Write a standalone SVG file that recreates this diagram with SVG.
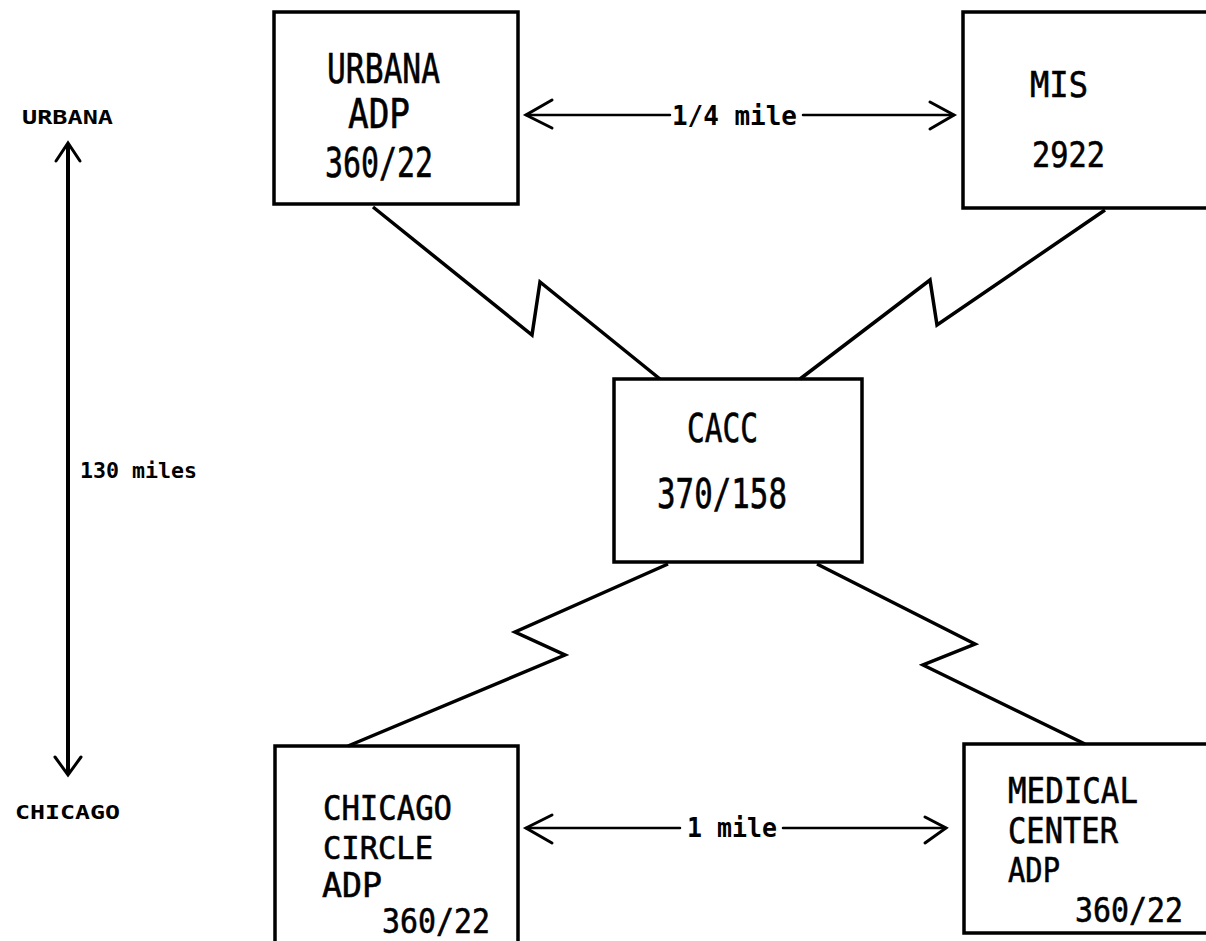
<svg xmlns="http://www.w3.org/2000/svg" width="1206" height="941" viewBox="0 0 1206 941">
<style>
.box{fill:none;stroke:#000;stroke-width:3.5}
.t{font-family:"DejaVu Sans Mono","Liberation Mono",monospace;fill:#000;stroke:#000;stroke-width:0.6}
.lb{font-family:"DejaVu Sans Mono","Liberation Mono",monospace;font-weight:bold;fill:#000}
.zz{fill:none;stroke:#000;stroke-width:3.5;stroke-linejoin:miter}
.ar{fill:none;stroke:#000;stroke-width:2.5;stroke-linecap:round}
.arh{fill:none;stroke:#000;stroke-width:3;stroke-linecap:round;stroke-linejoin:miter}
</style>
<rect width="1206" height="941" fill="#fff"/>
<g id="urbana-adp">
<rect class="box" x="274" y="12" width="244" height="192"/>
<text class="t" font-size="41" x="327" y="83" textLength="113" lengthAdjust="spacingAndGlyphs">URBANA</text>
<text class="t" font-size="40" x="348" y="128" textLength="62" lengthAdjust="spacingAndGlyphs">ADP</text>
<text class="t" font-size="41" x="325" y="177" textLength="108" lengthAdjust="spacingAndGlyphs">360/22</text>
</g>
<g id="mis">
<rect class="box" x="963" y="12" width="260" height="196"/>
<text class="t" font-size="35" x="1030" y="97" textLength="58" lengthAdjust="spacingAndGlyphs">MIS</text>
<text class="t" font-size="35" x="1032" y="167" textLength="73" lengthAdjust="spacingAndGlyphs">2922</text>
</g>
<g id="cacc">
<rect class="box" x="614" y="379" width="248" height="183"/>
<text class="t" font-size="39" x="687" y="442" textLength="71" lengthAdjust="spacingAndGlyphs">CACC</text>
<text class="t" font-size="41" x="657" y="508" textLength="130" lengthAdjust="spacingAndGlyphs">370/158</text>
</g>
<g id="chicago-circle-adp">
<rect class="box" x="275" y="746" width="243" height="200"/>
<text class="t" font-size="33" x="323" y="820" textLength="129" lengthAdjust="spacingAndGlyphs">CHICAGO</text>
<text class="t" font-size="32" x="323" y="859" textLength="110" lengthAdjust="spacingAndGlyphs">CIRCLE</text>
<text class="t" font-size="33" x="322" y="897" textLength="60" lengthAdjust="spacingAndGlyphs">ADP</text>
<text class="t" font-size="34" x="382" y="933" textLength="108" lengthAdjust="spacingAndGlyphs">360/22</text>
</g>
<g id="medical-center-adp">
<rect class="box" x="964" y="744" width="260" height="189"/>
<text class="t" font-size="36" x="1008" y="803" textLength="130" lengthAdjust="spacingAndGlyphs">MEDICAL</text>
<text class="t" font-size="35" x="1008" y="843" textLength="110" lengthAdjust="spacingAndGlyphs">CENTER</text>
<text class="t" font-size="34" x="1008" y="882" textLength="52" lengthAdjust="spacingAndGlyphs">ADP</text>
<text class="t" font-size="34" x="1075" y="922" textLength="108" lengthAdjust="spacingAndGlyphs">360/22</text>
</g>
<g id="connectors">
<polyline class="zz" points="373,207 532,335 540,282 660,379"/>
<polyline class="zz" points="1105,210 937,325 930,280 800,379"/>
<polyline class="zz" points="668,564 515,632 565,655 348,746"/>
<polyline class="zz" points="817,564 975,644 923,665 1085,744"/>
<line class="ar" x1="526" y1="115" x2="670" y2="115"/>
<line class="ar" x1="803" y1="115" x2="954" y2="115"/>
<polyline class="arh" points="552,100 526,115 552,128"/>
<polyline class="arh" points="930,102 954,115 930,129"/>
<line class="ar" x1="526" y1="828" x2="680" y2="828"/>
<line class="ar" x1="783" y1="828" x2="946" y2="828"/>
<polyline class="arh" points="552,815 526,828 552,843"/>
<polyline class="arh" points="925,817 946,828 925,843"/>
<line x1="68" y1="144" x2="68" y2="774" stroke="#000" stroke-width="4"/>
<polyline class="arh" points="56,161 68,143 80,161" stroke-width="3.5"/>
<polyline class="arh" points="55,757 68,775 81,757" stroke-width="3.5"/>
</g>
<g id="labels">
<text class="lb" font-size="26" x="672" y="125" textLength="125" lengthAdjust="spacingAndGlyphs">1/4 mile</text>
<text class="lb" font-size="26" x="687" y="837" textLength="90" lengthAdjust="spacingAndGlyphs">1 mile</text>
<text class="lb" font-size="20" x="22" y="124" textLength="91" lengthAdjust="spacingAndGlyphs">URBANA</text>
<text class="lb" font-size="21" x="80" y="478" textLength="117" lengthAdjust="spacingAndGlyphs">130 miles</text>
<text class="lb" font-size="20" x="15" y="819" textLength="105" lengthAdjust="spacingAndGlyphs">CHICAGO</text>
</g>
</svg>
